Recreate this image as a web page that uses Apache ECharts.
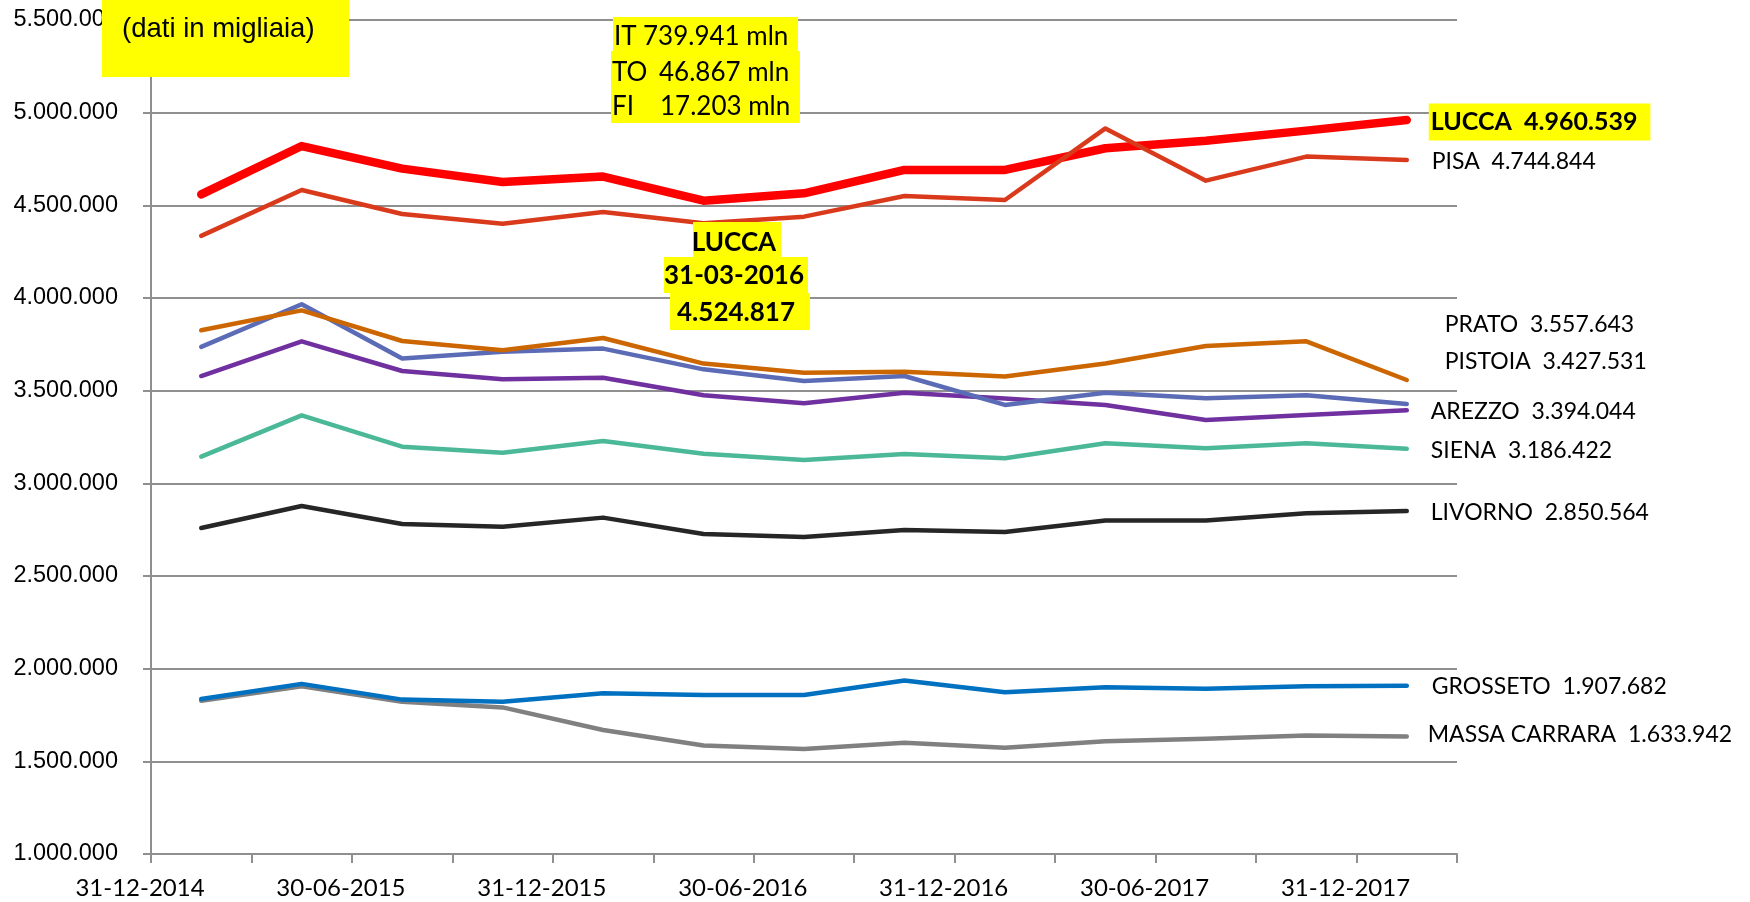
<!DOCTYPE html>
<html>
<head>
<meta charset="utf-8">
<script src="https://cdn.jsdelivr.net/npm/echarts@6/dist/echarts.min.js"></script>
<style>
html,body{margin:0;padding:0;background:#fff;}
#chart{width:1750px;height:902px;}
</style>
</head>
<body>
<div id="chart"></div>
<script>
// Quarter-end dates of the observations
const quarters = ['31-12-2014','31-03-2015','30-06-2015','30-09-2015','31-12-2015','31-03-2016','30-06-2016','30-09-2016','31-12-2016','31-03-2017','30-06-2017','30-09-2017','31-12-2017'];
// Axis tick labels (every second tick)
const tickLabels = ['31-12-2014','30-06-2015','31-12-2015','30-06-2016','31-12-2016','30-06-2017','31-12-2017'];

const lucca    = [4559000, 4820000, 4698000, 4626000, 4655000, 4524817, 4565000, 4691000, 4691000, 4808000, 4849000, 4903000, 4960539];
const pisa     = [4335000, 4583000, 4453000, 4401000, 4464000, 4403000, 4439000, 4550000, 4529000, 4915000, 4633000, 4763000, 4744844];
const prato    = [3826000, 3933000, 3768000, 3718000, 3784000, 3646000, 3597000, 3602000, 3576000, 3647000, 3741000, 3766000, 3557643];
const pistoia  = [3736000, 3966000, 3673000, 3710000, 3727000, 3615000, 3552000, 3579000, 3423000, 3489000, 3459000, 3475000, 3427531];
const arezzo   = [3579000, 3766000, 3606000, 3561000, 3570000, 3475000, 3432000, 3489000, 3458000, 3423000, 3342000, 3369000, 3394044];
const siena    = [3144000, 3367000, 3198000, 3165000, 3228000, 3160000, 3126000, 3158000, 3135000, 3216000, 3189000, 3216000, 3186422];
const livorno  = [2759000, 2878000, 2781000, 2766000, 2815000, 2727000, 2710000, 2748000, 2737000, 2799000, 2799000, 2838000, 2850564];
const grosseto = [1836000, 1918000, 1833000, 1822000, 1867000, 1858000, 1858000, 1936000, 1873000, 1900000, 1891000, 1905000, 1907682];
const massa    = [1827000, 1905000, 1822000, 1791000, 1669000, 1585000, 1567000, 1600000, 1573000, 1609000, 1622000, 1640000, 1633942];

function fmt(v){ return String(Math.round(v)).replace(/\B(?=(\d{3})+(?!\d))/g, '.'); }

const CAL = 'Lato, "Open Sans", sans-serif';
const ARIAL = '"Liberation Sans", Arial, sans-serif';

function line(name, data, color, width, labelOffset, extraLabel){
  return {
    name: name, type: 'line', data: data, xAxisIndex: 0, yAxisIndex: 0,
    symbol: 'none', smooth: false,
    lineStyle: { color: color, width: width, cap: 'round', join: 'round' },
    endLabel: Object.assign({
      show: true,
      distance: 0,
      offset: labelOffset,
      color: '#000',
      fontFamily: CAL,
      fontSize: 23,
      formatter: function(p){ return p.seriesName + '  ' + fmt(p.value); }
    }, extraLabel || {}),
    emphasis: { disabled: true },
    silent: true
  };
}

const chart = echarts.init(document.getElementById('chart'), null, { renderer: 'canvas' });
const option = {
  animation: false,
  backgroundColor: '#fff',
  grid: { left: 151, right: 293, top: 20, bottom: 48, containLabel: false, outerBoundsMode: 'none' },
  xAxis: [
    {
      type: 'category', data: quarters, boundaryGap: true, position: 'bottom',
      axisLine: { show: true, lineStyle: { color: '#8f8f8f', width: 2 } },
      axisTick: { show: true, interval: 0, alignWithLabel: false, length: 9, lineStyle: { color: '#8f8f8f', width: 2 } },
      axisLabel: { show: false },
      splitLine: { show: false }
    },
    {
      type: 'value', min: 0, max: quarters.length, interval: 1, position: 'bottom',
      axisLine: { show: false }, axisTick: { show: false }, splitLine: { show: false },
      axisLabel: {
        show: true, margin: 22, color: '#000', fontFamily: CAL, fontSize: 24,
        padding: [0, 22, 0, 0],
        formatter: function(v){ return (v % 2 === 0 && tickLabels[v/2]) ? tickLabels[v/2] : ''; }
      }
    }
  ],
  yAxis: {
    type: 'value', min: 1000000, max: 5500000, interval: 500000,
    axisLine: { show: true, lineStyle: { color: '#8f8f8f', width: 2 } },
    axisTick: { show: true, length: 8, lineStyle: { color: '#8f8f8f', width: 2 } },
    splitLine: { show: true, lineStyle: { color: '#8f8f8f', width: 2 } },
    axisLabel: { margin: 33, color: '#000', fontFamily: ARIAL, fontSize: 23.5, formatter: fmt }
  },
  series: [
    line('MASSA CARRARA', massa, '#808080', 4.5, [21, -2]),
    line('GROSSETO', grosseto, '#0070C0', 4.5, [25, 1]),
    line('LIVORNO', livorno, '#262626', 4.5, [24, 1.5]),
    line('SIENA', siena, '#4BB898', 4.5, [24, 2]),
    line('AREZZO', arezzo, '#7030A0', 4.5, [24, 1]),
    line('PISTOIA', pistoia, '#5B6BB5', 4.5, [38, -43]),
    line('PRATO', prato, '#CC6600', 4.5, [38, -55]),
    line('LUCCA', lucca, '#FF0000', 8.5, [22, 2], {
      fontWeight: 'bold', fontSize: 25, backgroundColor: '#FFFF00', padding: [3, 13, 3, 2], lineHeight: 31
    }),
    line('PISA', pisa, '#DA3A1C', 4.5, [25, 2])
  ],
  graphic: [
    // (dati in migliaia)
    { type: 'rect', z: 100, shape: { x: 102, y: 0, width: 247, height: 77 }, style: { fill: '#FFFF00' } },
    { type: 'text', z: 101, style: { x: 122, y: 29, text: '(dati in migliaia)', font: '27.5px ' + ARIAL, fill: '#000', verticalAlign: 'middle' } },
    // IT / TO / FI box
    { type: 'rect', z: 100, shape: { x: 613, y: 17, width: 185, height: 34 }, style: { fill: '#FFFF00' } },
    { type: 'rect', z: 100, shape: { x: 611, y: 51, width: 189, height: 72 }, style: { fill: '#FFFF00' } },
    { type: 'text', z: 101, style: { x: 614, y: 37, text: 'IT', font: '26px ' + CAL, fill: '#000', verticalAlign: 'middle' } },
    { type: 'text', z: 101, style: { x: 643, y: 37, text: '739.941 mln', font: '26px ' + CAL, fill: '#000', verticalAlign: 'middle' } },
    { type: 'text', z: 101, style: { x: 612, y: 73, text: 'TO', font: '26px ' + CAL, fill: '#000', verticalAlign: 'middle' } },
    { type: 'text', z: 101, style: { x: 659, y: 73, text: '46.867 mln', font: '26px ' + CAL, fill: '#000', verticalAlign: 'middle' } },
    { type: 'text', z: 101, style: { x: 612, y: 107, text: 'FI', font: '26px ' + CAL, fill: '#000', verticalAlign: 'middle' } },
    { type: 'text', z: 101, style: { x: 660, y: 107, text: '17.203 mln', font: '26px ' + CAL, fill: '#000', verticalAlign: 'middle' } },
    // LUCCA minimum annotation
    { type: 'rect', z: 100, shape: { x: 693, y: 222, width: 88, height: 35 }, style: { fill: '#FFFF00' } },
    { type: 'rect', z: 100, shape: { x: 664, y: 257, width: 144, height: 36 }, style: { fill: '#FFFF00' } },
    { type: 'rect', z: 100, shape: { x: 670, y: 293, width: 140, height: 37 }, style: { fill: '#FFFF00' } },
    { type: 'text', z: 101, style: { x: 734, y: 243, text: 'LUCCA', font: 'bold 26px ' + CAL, fill: '#000', align: 'center', verticalAlign: 'middle' } },
    { type: 'text', z: 101, style: { x: 734, y: 276, text: '31-03-2016', font: 'bold 26px ' + CAL, fill: '#000', align: 'center', verticalAlign: 'middle' } },
    { type: 'text', z: 101, style: { x: 736, y: 313, text: fmt(lucca[5]), font: 'bold 26px ' + CAL, fill: '#000', align: 'center', verticalAlign: 'middle' } }
  ]
};
chart.setOption(option);
</script>
</body>
</html>
